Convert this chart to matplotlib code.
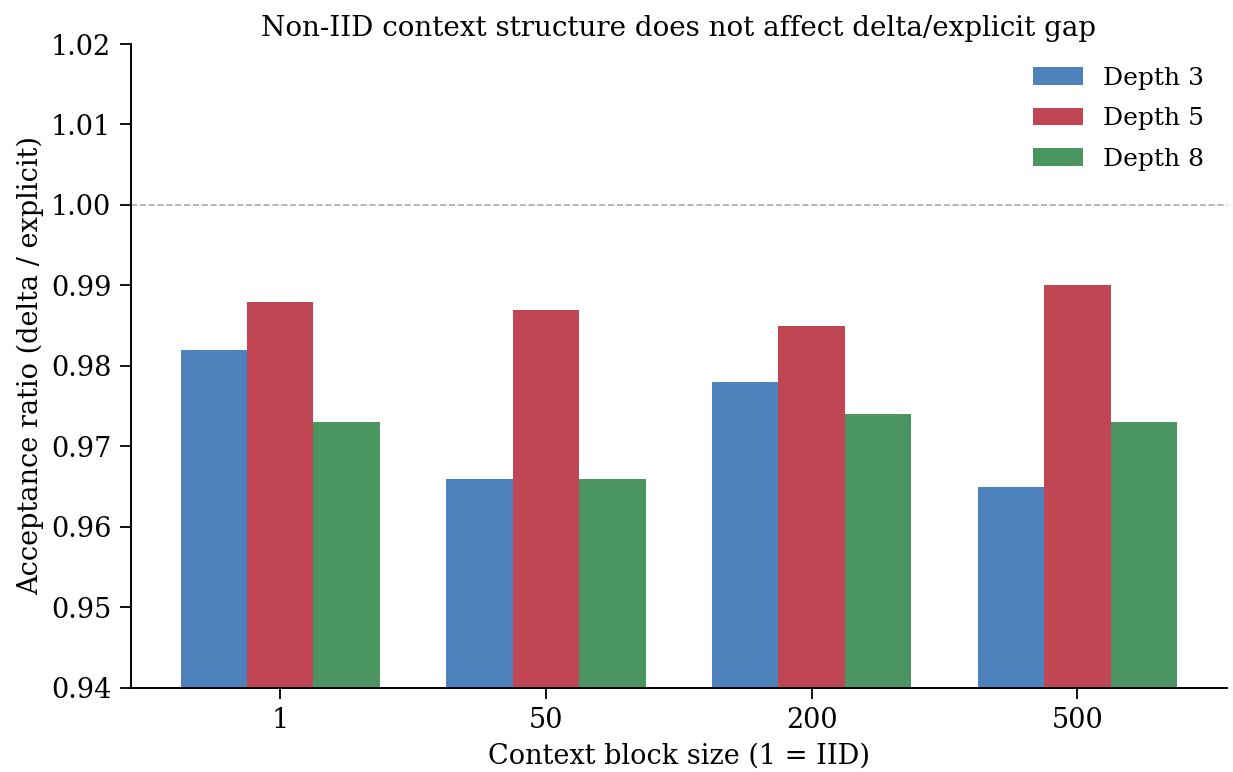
import matplotlib
matplotlib.use('Agg')
import matplotlib.pyplot as plt
import numpy as np

# block sizes on the x axis
block_sizes = ['1', '50', '200', '500']
# acceptance ratio (delta / explicit) per depth
depth3 = [0.982, 0.966, 0.978, 0.965]
depth5 = [0.988, 0.987, 0.985, 0.990]
depth8 = [0.973, 0.966, 0.974, 0.973]
series = [('Depth 3', depth3), ('Depth 5', depth5), ('Depth 8', depth8)]
colors = ['#4e82bc', '#c04654', '#4a9560']

plt.rcParams['font.family'] = 'DejaVu Serif'

fig, ax = plt.subplots(figsize=(12.33, 7.72), dpi=100)
fig.subplots_adjust(left=0.106, right=0.995, bottom=0.109, top=0.943)

x = np.arange(len(block_sizes))
width = 0.25
for i, (name, vals) in enumerate(series):
    ax.bar(x + (i - 1) * width, vals, width, label=name, color=colors[i], linewidth=0)

# reference line at parity
ax.axhline(1.0, color='#aaaaaa', linestyle='--', linewidth=1.2)

ax.set_ylim(0.94, 1.02)
ax.set_yticks(np.arange(0.94, 1.0201, 0.01))
ax.set_xticks(x)
ax.set_xticklabels(block_sizes)
ax.tick_params(labelsize=19.5, length=8, width=1.3, pad=6)
for s in ['left', 'bottom']:
    ax.spines[s].set_linewidth(1.4)
ax.set_xlabel('Context block size (1 = IID)', fontsize=19.5, labelpad=6)
ax.set_ylabel('Acceptance ratio (delta / explicit)', fontsize=19.5, labelpad=5)
ax.set_title('Non-IID context structure does not affect delta/explicit gap', fontsize=20)
ax.spines['top'].set_visible(False)
ax.spines['right'].set_visible(False)
ax.legend(frameon=False, fontsize=18, loc='upper right', labelspacing=0.7)

fig.savefig('out.png', dpi=100)
